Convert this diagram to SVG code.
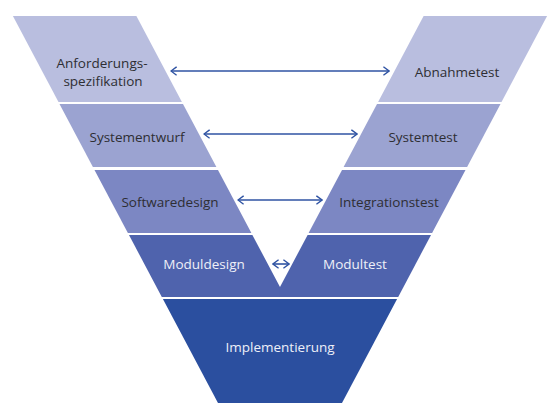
<svg xmlns="http://www.w3.org/2000/svg" width="553" height="419" viewBox="0 0 553 419">
<defs>
<style>
.t{font-family:"Open Sans","Noto Sans","Liberation Sans",sans-serif;font-size:13.5px;text-anchor:middle}
.d{fill:#2e2e33}
.l{fill:#eef0f8}
.b1{fill:#b9bedf}
.b2{fill:#9ba3d1}
.b3{fill:#7c87c3}
.b4{fill:#4f63ad}
.b5{fill:#2b4f9f}
.c{stroke:#2f53a3;stroke-width:1.6;fill:none}
</style>
<marker id="ah" viewBox="0 0 10 14" refX="9" refY="7" markerWidth="7" markerHeight="10" markerUnits="userSpaceOnUse" orient="auto-start-reverse">
<path d="M1,1 L9,7 L1,13" fill="none" stroke="#2f53a3" stroke-width="2"/>
</marker>
</defs>
<rect width="553" height="419" fill="#ffffff"/>
<g id="anforderungsspezifikation">
<polygon class="b1" points="12.9,16 136.4,16 181.9,102 58.5,102"/>
<text class="t d" x="102" y="68">Anforderungs-</text>
<text class="t d" x="103" y="86">spezifikation</text>
</g>
<g id="abnahmetest">
<polygon class="b1" points="423.6,16 547.1,16 501.5,102 378.1,102"/>
<text class="t d" x="457" y="77">Abnahmetest</text>
</g>
<g id="systementwurf">
<polygon class="b2" points="59.5,104 183,104 216.4,167 92.9,167"/>
<text class="t d" x="137" y="142">Systementwurf</text>
</g>
<g id="systemtest">
<polygon class="b2" points="377,104 500.5,104 467.1,167 343.6,167"/>
<text class="t d" x="423" y="142">Systemtest</text>
</g>
<g id="softwaredesign">
<polygon class="b3" points="94.5,170 218,170 251.4,233 127.9,233"/>
<text class="t d" x="170" y="207">Softwaredesign</text>
</g>
<g id="integrationstest">
<polygon class="b3" points="342,170 465.5,170 432.1,233 308.6,233"/>
<text class="t d" x="389" y="207">Integrationstest</text>
</g>
<g id="moduldesign">
<polygon class="b4" points="129,235 252.4,235 280.4,287.8 280.4,297 161.8,297"/>
<text class="t l" x="204" y="269">Moduldesign</text>
</g>
<g id="modultest">
<polygon class="b4" points="279.6,287.8 307.6,235 431,235 398.2,297 279.6,297"/>
<text class="t l" x="355" y="269">Modultest</text>
</g>
<g id="implementierung">
<polygon class="b5" points="162.9,299 397.1,299 342,403 218,403"/>
<text class="t l" x="280" y="352">Implementierung</text>
</g>
<g id="connectors">
<line class="c" x1="171" y1="71" x2="389" y2="71" marker-start="url(#ah)" marker-end="url(#ah)"/>
<line class="c" x1="204" y1="134" x2="357" y2="134" marker-start="url(#ah)" marker-end="url(#ah)"/>
<line class="c" x1="238" y1="200" x2="322" y2="200" marker-start="url(#ah)" marker-end="url(#ah)"/>
<line class="c" x1="273" y1="264" x2="289" y2="264" marker-start="url(#ah)" marker-end="url(#ah)"/>
</g>
</svg>
